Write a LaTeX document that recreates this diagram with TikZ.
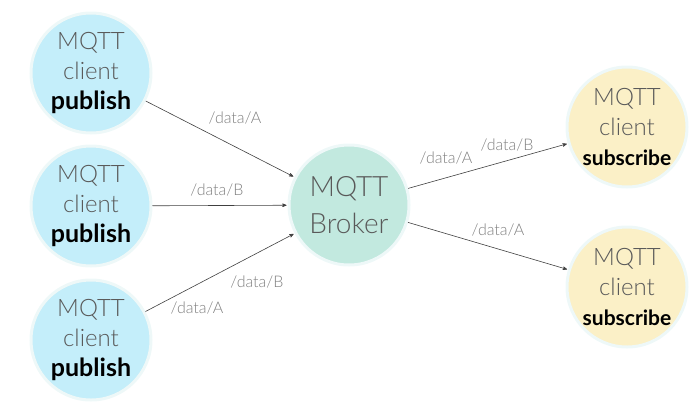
\documentclass[tikz,border=0pt]{standalone}
\usepackage{fontspec}
\setmainfont{Lato}
\newfontfamily\lightfont{Lato Light}
\usetikzlibrary{arrows}
\definecolor{pubfill}{HTML}{C4EEFA}
\definecolor{brokerfill}{HTML}{C2E9DF}
\definecolor{subfill}{HTML}{FBF0C7}
\definecolor{ringcol}{HTML}{EEF8F8}

\begin{document}
\begin{tikzpicture}[x=1pt,y=-1pt]
			\tikzstyle{client}= [
				circle, draw = ringcol, line width = 3pt, fill = pubfill,
				inner sep = 0pt, minimum size = 120pt, align = center,
				text = black!65, font = \lightfont\fontsize{24}{30}\selectfont
			]
			\tikzstyle{subclient}= [client, fill = subfill]
			\tikzstyle{broker}= [client, fill = brokerfill,
				font = \lightfont\fontsize{28}{37}\selectfont]
			\tikzstyle{line}=[->,draw=black!75,shorten >=1pt,>=stealth',semithick]
			\tikzstyle{topic}=[text=black!50, font=\lightfont\fontsize{16}{16}\selectfont]
			\useasboundingbox (0,0) rectangle (698,407);
			\node[client] (pub1) at (91,73) {MQTT\\client\\{\color{black}\normalfont\fontsize{25}{30}\selectfont\bfseries publish}};
			\node[client] (pub2) at (91,206) {MQTT\\client\\{\color{black}\normalfont\fontsize{25}{30}\selectfont\bfseries publish}};
			\node[client] (pub3) at (91,340) {MQTT\\client\\{\color{black}\normalfont\fontsize{25}{30}\selectfont\bfseries publish}};
			\node[broker] (broker) at (349,205) {MQTT\\Broker};
			\node[subclient] (sub1) at (627,127) {MQTT\\client\\{\color{black}\normalfont\fontsize{21}{30}\selectfont\bfseries subscribe}};
			\node[subclient] (sub2) at (627,287) {MQTT\\client\\{\color{black}\normalfont\fontsize{21}{30}\selectfont\bfseries subscribe}};
			\draw (pub1) to (broker) [line];
			\draw (pub2) to (broker) [line];
			\draw (pub3) to (broker) [line];
			\draw (broker) to (sub1) [line];
			\draw (broker) to (sub2) [line];
			\node[topic] (t1) at (235,118) {/data/A};
			\node[topic] (t2) at (217,190) {/data/B};
			\node[topic] (t3) at (257,282) {/data/B};
			\node[topic] (t4) at (197,308) {/data/A};
			\node[topic] (t5) at (446,158) {/data/A};
			\node[topic] (t6) at (507,145) {/data/B};
			\node[topic] (t7) at (498,230) {/data/A};
		\end{tikzpicture}
\end{document}
